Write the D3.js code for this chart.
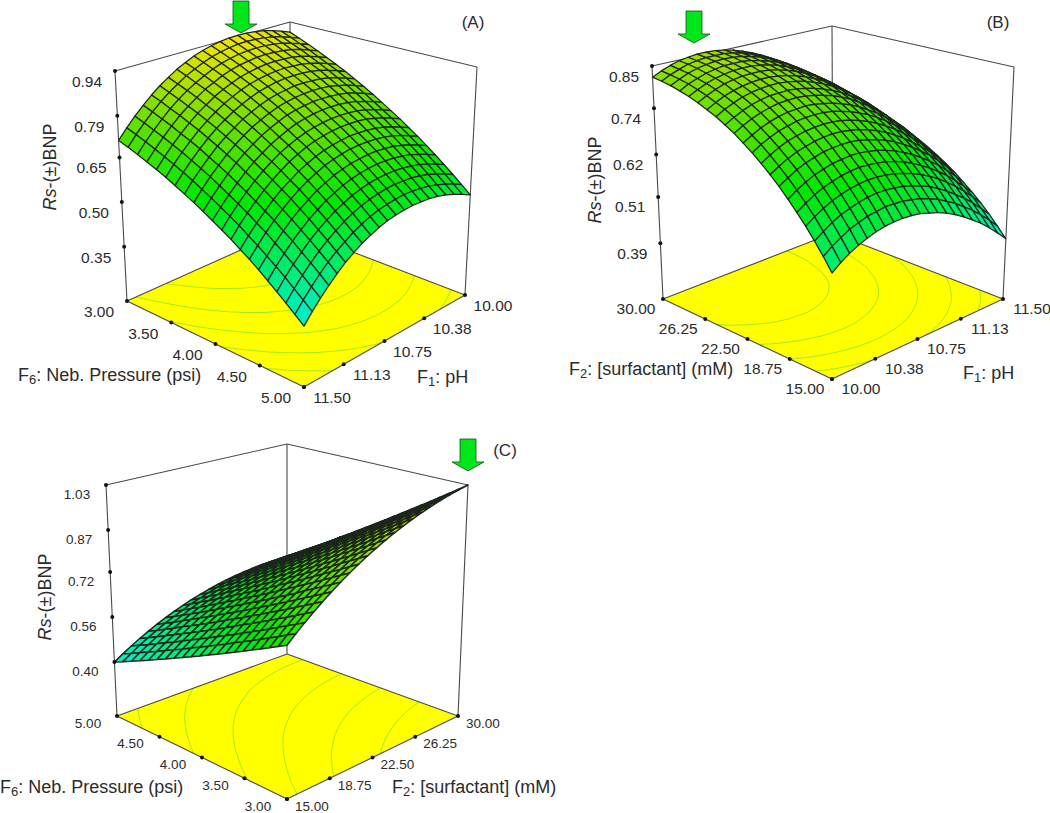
<!DOCTYPE html>
<html><head><meta charset="utf-8">
<script src="https://cdn.jsdelivr.net/npm/d3@7"></script>
<style>html,body{margin:0;background:#fff}svg{display:block}text{font-family:"Liberation Sans",Arial,sans-serif;fill:#2b2b2b}</style>
</head><body><svg id="c" width="1050" height="813"></svg>
<script>
// Rs values in thousandths, read from the surfaces. Rows: first factor, columns: second factor.
const surfaceA = [
[902,888,873,858,842,826,809,791,773,754,734,714,694,672,651,628,605,581,557,532,507],
[915,901,886,871,855,839,823,805,787,768,748,728,708,686,665,642,620,596,572,547,522],
[926,912,897,883,867,851,834,816,799,780,760,740,720,698,678,655,632,608,584,560,535],
[935,921,907,892,876,860,844,826,808,790,770,750,730,709,688,665,643,619,595,570,546],
[941,927,913,898,883,867,850,833,815,796,777,757,738,716,695,673,650,626,603,578,554],
[944,930,916,901,886,870,854,836,819,800,781,761,742,720,700,677,655,631,608,583,559],
[945,932,917,903,887,872,855,838,821,802,783,763,744,722,702,680,657,634,610,586,561],
[944,931,916,902,887,871,855,838,820,802,783,763,744,723,702,680,658,634,611,587,562],
[940,927,913,898,883,868,852,834,817,799,780,760,741,720,700,677,655,632,609,584,560],
[934,921,907,893,877,862,846,829,812,794,775,755,736,715,695,673,651,628,604,580,556],
[926,913,899,885,870,855,839,822,805,787,768,748,729,708,688,666,644,621,598,574,550],
[915,902,888,874,859,844,828,811,794,776,757,738,720,699,679,657,635,612,589,565,541],
[901,888,874,860,846,831,815,798,781,763,744,726,707,686,666,644,622,599,577,553,529],
[886,873,859,846,831,816,800,784,767,749,730,712,693,672,652,631,609,586,563,539,516],
[867,854,841,827,812,798,782,765,749,731,712,694,675,654,635,613,591,569,546,522,499],
[847,834,821,807,793,778,763,746,729,712,693,675,656,636,616,594,573,550,528,504,481],
[824,812,798,785,770,756,740,724,707,690,671,653,634,614,594,573,551,529,506,483,459],
[798,786,772,759,744,730,715,698,682,665,646,628,609,589,570,548,527,504,482,459,435],
[770,758,744,731,717,703,687,671,655,637,619,601,583,562,543,522,500,478,456,432,409],
[740,728,715,701,687,673,658,642,625,608,590,572,554,533,514,493,472,450,427,404,381],
[707,695,682,669,655,641,625,609,593,576,558,540,522,502,483,462,440,418,396,373,350]];
const surfaceB = [
[821,817,812,805,797,788,777,766,752,738,721,704,685,665,644,621,597,572,545,517,487],
[832,828,823,817,809,800,789,779,765,751,734,718,699,679,658,636,612,587,560,533,503],
[841,837,833,826,819,810,800,789,776,762,746,729,711,691,671,648,625,600,574,546,517],
[848,845,840,834,827,819,808,798,785,771,755,739,721,701,681,659,635,611,585,558,528],
[852,849,845,839,832,824,814,804,791,778,762,745,727,708,688,666,643,619,593,566,537],
[855,852,848,843,836,828,818,808,796,783,767,751,733,714,695,673,650,626,600,574,545],
[855,852,849,843,837,829,820,810,797,785,769,754,736,718,698,676,654,630,605,578,550],
[854,852,848,843,837,829,820,811,798,786,771,755,738,720,700,679,657,633,608,582,553],
[850,848,845,840,834,827,817,808,796,784,769,754,737,719,700,679,656,633,608,582,554],
[844,842,839,834,829,822,813,804,792,780,765,751,734,716,697,676,654,631,606,581,553],
[836,834,832,827,822,815,806,798,786,774,760,745,729,711,692,672,650,627,603,577,550],
[826,825,822,818,812,806,798,789,778,767,752,738,721,704,686,665,644,621,597,572,544],
[814,813,811,807,801,795,787,779,768,757,743,728,712,695,677,657,636,613,589,564,537],
[800,799,797,793,788,782,775,767,756,745,731,717,701,684,666,646,625,603,580,555,528],
[783,782,781,777,772,767,759,751,741,730,716,703,687,670,653,633,612,591,567,542,516],
[765,765,763,760,755,750,742,735,725,714,701,687,672,655,638,618,598,577,553,529,502],
[744,744,743,739,735,730,723,716,705,695,682,669,654,637,620,601,581,560,536,512,486],
[722,722,721,718,714,709,702,695,685,675,662,649,634,618,602,583,563,542,519,495,469],
[697,697,697,694,690,685,679,672,662,652,640,627,612,597,580,561,541,521,498,474,449],
[670,671,670,668,664,660,653,647,637,628,615,603,588,573,556,538,518,498,475,452,426],
[641,642,642,639,636,632,626,619,610,601,589,576,562,547,531,512,493,473,451,427,402]];
const surfaceC = [
[700,685,670,655,640,625,610,595,580,565,550,535,520,505,490,475,460,445,430,415,400],
[726,711,695,680,665,649,634,619,603,588,572,557,542,526,511,496,480,465,450,434,419],
[751,735,720,704,688,672,657,641,625,610,594,578,563,547,531,515,500,484,468,453,437],
[775,759,743,727,711,695,679,663,647,631,614,598,582,566,550,534,518,502,486,470,454],
[798,782,765,749,732,716,700,683,667,650,634,618,601,585,568,552,536,519,503,486,470],
[820,803,786,770,753,736,719,703,686,669,652,636,619,602,585,569,552,535,518,502,485],
[841,824,807,790,773,755,738,721,704,687,670,653,636,619,602,584,567,550,533,516,499],
[861,844,826,809,791,774,756,739,721,704,686,669,652,634,617,599,582,564,547,529,512],
[880,862,844,827,809,791,773,755,738,720,702,684,666,649,631,613,595,577,560,542,524],
[898,880,862,844,825,807,789,771,753,735,716,698,680,662,644,626,608,589,571,553,535],
[915,896,878,859,841,822,804,785,767,748,730,711,693,674,656,637,619,600,582,563,545],
[931,912,893,874,856,837,818,799,780,761,742,724,705,686,667,648,629,611,592,573,554],
[946,927,908,888,869,850,831,812,792,773,754,735,716,696,677,658,639,620,600,581,562],
[960,940,921,901,882,862,843,823,804,784,764,745,725,706,686,667,647,628,608,589,569],
[973,953,933,913,893,873,854,834,814,794,774,754,734,714,694,674,655,635,615,595,575],
[985,965,944,924,904,884,863,843,823,803,782,762,742,722,701,681,661,641,620,600,580],
[996,975,955,934,914,893,872,852,831,811,790,769,749,728,708,687,666,646,625,605,584],
[1006,985,964,943,922,901,880,859,838,817,796,776,755,734,713,692,671,650,629,608,587],
[1015,994,972,951,930,908,887,866,845,823,802,781,759,738,717,695,674,653,632,610,589],
[1023,1001,980,958,936,915,893,871,850,828,806,785,763,742,720,698,677,655,633,612,590],
[1030,1008,986,964,942,920,898,876,854,832,810,788,766,744,722,700,678,656,634,612,590]];

const ticksF1Up = ["10.00","10.38","10.75","11.13","11.50"];
const ticksF2 = ["15.00","18.75","22.50","26.25","30.00"];
const ticksF6 = ["3.00","3.50","4.00","4.50","5.00"];
const ticksZA = ["0.35","0.50","0.65","0.79","0.94"];
const ticksZB = ["0.39","0.51","0.62","0.74","0.85"];
const ticksZC = ["0.40","0.56","0.72","0.87","1.03"];
const contourLevelsA = [448,547,645,743,842];
const contourLevelsB = [467,543,620,697,773];
const contourLevelsC = [445,535,630,730,830,930];

const panels = [
 {name:"(A)", namePos:[473,22], grid:surfaceA, levels:contourLevelsA, zFloor:168, zTicks:ticksZA, colourTop:950,
  uDom:[10,11.5], vDom:[3,5], uTicks:ticksF1Up, vTicks:ticksF6,
  floor:{p00:[290,228],p10:[127,301],p01:[465,295],p11:[304,387]},
  top:{p00:[290,22],p10:[115,71],p01:[477,67],p11:[304,129]},
  back:[0,0], stroke:1.25,
  leftOff:[-28,10.5], rightOff:[28,10.5], zOff:[-28,10.5], fs:15.5,
  leftTitle:["F","6",": Neb. Pressure (psi)"], leftTitlePos:[18,375],
  rightTitle:["F","1",": pH"], rightTitlePos:[417,377], yTitle:[50,167], arrow:[241,33]},
 {name:"(B)", namePos:[998,22], grid:surfaceB, levels:contourLevelsB, zFloor:245, zTicks:ticksZB, colourTop:960,
  uDom:[10,11.5], vDom:[30,15], uTicks:ticksF1Up, vTicks:ticksF2,
  floor:{p00:[663,299],p10:[833,233],p01:[832,379],p11:[1003,299]},
  top:{p00:[652,66],p10:[832,26],p01:[832,114],p11:[1014,67]},
  back:[1,0], stroke:1.25,
  leftOff:[-27,9.5], rightOff:[29,9.5], zOff:[-28,10], fs:15.5,
  leftTitle:["F","2",": [surfactant] (mM)"], leftTitlePos:[569,369],
  rightTitle:["F","1",": pH"], rightTitlePos:[963,373], yTitle:[595,180], arrow:[694,43]},
 {name:"(C)", namePos:[505,450], grid:surfaceC, levels:contourLevelsC, zFloor:208, zTicks:ticksZC, colourTop:1030,
  uDom:[15,30], vDom:[3,5], uTicks:ticksF2, vTicks:ticksF6,
  floor:{p00:[287,799],p10:[458,716],p01:[117,716],p11:[287,654]},
  top:{p00:[287,542],p10:[468,485],p01:[106,485],p11:[287,444]},
  back:[1,1], stroke:1.5,
  leftOff:[-29,7], rightOff:[25,7], zOff:[-29,9.5], fs:13.5,
  leftTitle:["F","6",": Neb. Pressure (psi)"], leftTitlePos:[0,787],
  rightTitle:["F","2",": [surfactant] (mM)"], rightTitlePos:[392,787], yTitle:[45,597], arrow:[468,471]}
];

const svg = d3.select("#c");
const colour = d3.scaleLinear().domain([0,.42,.75,1]).range(["#00f0d8","#00e800","#82de00","#f6e400"]).clamp(true);
const line = d3.line();

function bil(q,u,v){return [0,1].map(k=>(1-u)*(1-v)*q.p00[k]+u*(1-v)*q.p10[k]+(1-u)*v*q.p01[k]+u*v*q.p11[k]);}

panels.forEach(p=>{
  const g = svg.append("g");
  const n = p.grid.length;
  const zVals = p.zTicks.map(t=>+t*1000);
  const zMin = zVals[0], zMax = zVals[zVals.length-1];
  const su = d3.scaleLinear().domain(p.uDom).range([0,1]);
  const sv = d3.scaleLinear().domain(p.vDom).range([0,1]);
  const iu = d3.scaleLinear().domain([0,n-1]).range([0,1]);
  const sz = d3.scaleLinear().domain([p.zFloor,zMax]).range([0,1]);
  const proj = (u,v,z)=>{const w=sz(z),a=bil(p.floor,u,v),b=bil(p.top,u,v);return [a[0]+(b[0]-a[0])*w,a[1]+(b[1]-a[1])*w];};
  const floorZ=p.zFloor;

  const [bu,bv]=p.back;
  const backC=[bu,bv], frontC=[1-bu,1-bv];
  const c1=[bu,1-bv], c2=[1-bu,bv];
  const P=(c,z)=>proj(c[0],c[1],z);
  const isLeft = P(c1,floorZ)[0]<P(c2,floorZ)[0];
  const leftC=isLeft?c1:c2, rightC=isLeft?c2:c1;

  // floor
  g.append("path").attr("d",line([leftC,frontC,rightC,backC].map(c=>P(c,floorZ)))+"Z").attr("fill","#ffff00");
  // contours on the floor
  const flat=[];p.grid.forEach(r=>r.forEach(d=>flat.push(d)));
  const cs=d3.contours().size([n,n]).thresholds(p.levels)(flat);
  cs.forEach(mp=>mp.coordinates.forEach(poly=>poly.forEach(ring=>{
    for(let k=1;k<ring.length;k++){
      const a=ring[k-1],b=ring[k];
      const edge=(f)=>(f(a)<=.5&&f(b)<=.5)||(f(a)>=n-.5&&f(b)>=n-.5);
      if(edge(d=>d[0])||edge(d=>d[1]))continue;
      const m=d=>proj(iu(Math.max(0,Math.min(n-1,d[1]-.5))),iu(Math.max(0,Math.min(n-1,d[0]-.5))),floorZ);
      g.append("path").attr("d",line([m(a),m(b)])).attr("stroke","#a4ea1e").attr("stroke-width",1).attr("fill","none");
    }
  })));
  // box
  const edge=(a,b)=>g.append("path").attr("d",line([a,b])).attr("stroke","#4a4a4a").attr("stroke-width",1.1).attr("fill","none");
  [leftC,backC,rightC].forEach(c=>edge(P(c,floorZ),P(c,zMax)));
  edge(P(leftC,zMax),P(backC,zMax));edge(P(backC,zMax),P(rightC,zMax));
  edge(P(leftC,floorZ),P(frontC,floorZ));edge(P(frontC,floorZ),P(rightC,floorZ));
  edge(P(leftC,floorZ),P(backC,floorZ));edge(P(backC,floorZ),P(rightC,floorZ));

  // surface cells, back to front
  const cells=[];
  for(let i=0;i<n-1;i++)for(let j=0;j<n-1;j++){
    const du=bu?(n-2-i):i, dv=bv?(n-2-j):j;
    cells.push({i,j,d:du+dv});
  }
  cells.sort((a,b)=>a.d-b.d);
  const tc=d3.scaleLinear().domain([zMin,p.colourTop]).range([0,1]);
  g.append("g").selectAll("path").data(cells).join("path")
    .attr("d",c=>{const G=p.grid,q=(i,j)=>proj(iu(i),iu(j),G[i][j]);
      return line([q(c.i,c.j),q(c.i+1,c.j),q(c.i+1,c.j+1),q(c.i,c.j+1)])+"Z";})
    .attr("fill",c=>{const G=p.grid;return colour(tc((G[c.i][c.j]+G[c.i+1][c.j]+G[c.i][c.j+1]+G[c.i+1][c.j+1])/4));})
    .attr("stroke","#1c261c").attr("stroke-width",p.stroke).attr("stroke-linejoin","round");

  // tick dots + labels
  const dot=(pt)=>g.append("circle").attr("cx",pt[0]).attr("cy",pt[1]).attr("r",2).attr("fill","#111");
  const lab=(pt,off,t)=>g.append("text").attr("x",pt[0]+off[0]).attr("y",pt[1]+off[1]).attr("text-anchor","middle")
     .attr("dominant-baseline","central").attr("font-size",p.fs).text(t);
  zVals.forEach((z,k)=>{const pt=P(leftC,z);dot(pt);lab(pt,p.zOff,p.zTicks[k]);});
  const axisPts=(fromC,scale,ticks,dim)=>ticks.map(t=>{
    const f=scale(+t);const c=dim==="u"?[f,fromC[1]]:[fromC[0],f];return [t,P(c,floorZ)];});
  const leftDim = leftC[0]===frontC[0]?"v":"u";
  const rightDim = leftDim==="v"?"u":"v";
  const ptsL=axisPts(leftC,leftDim==="v"?sv:su,leftDim==="v"?p.vTicks:p.uTicks,leftDim);
  const ptsR=axisPts(rightC,rightDim==="v"?sv:su,rightDim==="v"?p.vTicks:p.uTicks,rightDim);
  ptsL.forEach(d=>{dot(d[1]);lab(d[1],p.leftOff,d[0]);});
  ptsR.forEach(d=>{dot(d[1]);lab(d[1],p.rightOff,d[0]);});

  // titles
  const sub=(t,pos)=>{const e=g.append("text").attr("x",pos[0]).attr("y",pos[1]).attr("dominant-baseline","central").attr("font-size",18);
    e.append("tspan").text(t[0]);e.append("tspan").attr("font-size",13).attr("dy",4).text(t[1]);e.append("tspan").attr("dy",-4).text(t[2]);};
  sub(p.leftTitle,p.leftTitlePos);sub(p.rightTitle,p.rightTitlePos);
  const yt=g.append("text").attr("transform",`translate(${p.yTitle[0]},${p.yTitle[1]}) rotate(-90)`).attr("text-anchor","middle")
    .attr("dominant-baseline","central").attr("font-size",18);
  yt.append("tspan").attr("font-style","italic").text("Rs");yt.append("tspan").text("-(±)BNP");
  g.append("text").attr("x",p.namePos[0]).attr("y",p.namePos[1]).attr("text-anchor","middle").attr("dominant-baseline","central").attr("font-size",17).text(p.name);

  // arrow marking the optimum
  const [ax,ay]=p.arrow;
  const arrowShape=[[-8,-32],[8,-32],[8,-9],[16,-9],[0,0],[-16,-9],[-8,-9]];
  g.append("path").attr("d",line(arrowShape.map(d=>[ax+d[0],ay+d[1]]))+"Z").attr("fill","#00e61a").attr("stroke","#1a4a1a").attr("stroke-width",.8);
});
</script></body></html>
